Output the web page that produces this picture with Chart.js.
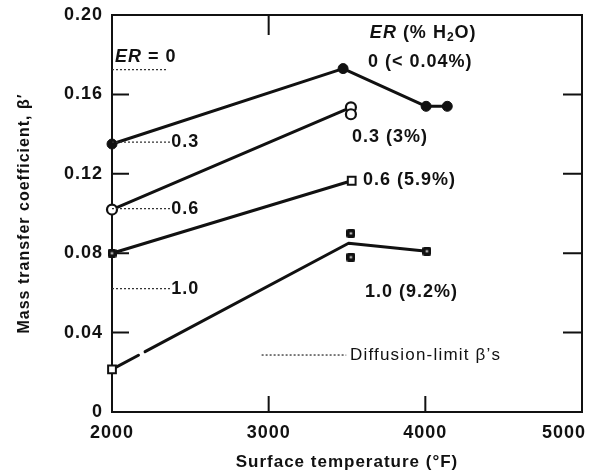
<!DOCTYPE html>
<html>
<head>
<meta charset="utf-8">
<title>Mass transfer coefficient vs surface temperature</title>
<script src="https://cdn.jsdelivr.net/npm/chart.js@4.4.1/dist/chart.umd.min.js"></script>
<style>
  html, body { margin: 0; padding: 0; background: #fff; }
  #wrap { width: 593px; height: 473px; }
</style>
</head>
<body>
<div id="wrap"><canvas id="chart"></canvas></div>
<script>
// beta' readings (surface temperature in °F) for each excess-reagent level
const er0Temp  = [2000, 3475, 4005, 4140];
const er0Beta  = [0.135, 0.173, 0.154, 0.154];
const er03Temp = [2000, 3525, 3525];
const er03Beta = [0.102, 0.1535, 0.150];
const er06Temp = [2000, 3530];
const er06Beta = [0.080, 0.1165];
const er10Temp = [2000, 3510, 4010];
const er10Beta = [0.0215, 0.085, 0.081];
// repeat runs at ER = 1.0, markers only
const er10RepTemp = [3525, 3525];
const er10RepBeta = [0.090, 0.078];

// diffusion-limit beta' per ER level
const erLevels  = ['0', '0.3', '0.6', '1.0'];
const waterPct  = ['< 0.04%', '3%', '5.9%', '9.2%'];
const diffBeta  = [0.1725, 0.136, 0.1025, 0.0622];

const xTicks = [2000, 3000, 4000, 5000];
const yTicks = [0, 0.04, 0.08, 0.12, 0.16, 0.20];

const FAM = '"Liberation Sans", Arial, Helvetica, sans-serif';
const INK = '#111';
const DIFF_END = 2370;   // dotted limit marks run from 2000 °F to here

// small filled square with a light centre, used for the ER = 1.0 runs
function dotSquare(size) {
  const c = document.createElement('canvas');
  c.width = size; c.height = size;
  const g = c.getContext('2d');
  g.fillStyle = INK;
  g.beginPath(); g.roundRect(0, 0, size, size, 2); g.fill();
  g.fillStyle = '#fff';
  g.fillRect(size / 2 - 1, size / 2 - 1, 2, 2);
  return c;
}
const darkSq = dotSquare(9);

const pts = (xs, ys) => xs.map((x, i) => ({ x, y: ys[i] }));
const solid = { showLine: true, borderColor: INK, borderWidth: 3, fill: false, tension: 0,
                borderCapStyle: 'round', borderJoinStyle: 'round', clip: false };

const diffSets = diffBeta.map((b, i) => ({
  data: [{ x: 2000, y: b }, { x: i === 0 ? 2355 : DIFF_END, y: b }],
  showLine: true, borderColor: '#333', borderWidth: 1.3, borderDash: [2, 2], pointRadius: 0
}));

// text placed in data units
const notes = [
  { x: 3646, y: 0.191,  parts: [['ER', 'bi'], [' (% H', 'b'], ['2', 'sub'], ['O)', 'b']] },
  { x: 3634, y: 0.1765, parts: [[erLevels[0] + ' (' + waterPct[0] + ')', 'b']] },
  { x: 3532, y: 0.1386, parts: [[erLevels[1] + ' (' + waterPct[1] + ')', 'b']] },
  { x: 3602, y: 0.117,  parts: [[erLevels[2] + ' (' + waterPct[2] + ')', 'b']] },
  { x: 3615, y: 0.0605, parts: [[erLevels[3] + ' (' + waterPct[3] + ')', 'b']] },
  { x: 2019, y: 0.179,  parts: [['ER', 'bi'], [' = ' + erLevels[0], 'b']] },
  { x: DIFF_END + 8, y: diffBeta[1], parts: [[erLevels[1], 'b']] },
  { x: DIFF_END + 8, y: diffBeta[2], parts: [[erLevels[2], 'b']] },
  { x: DIFF_END + 8, y: diffBeta[3], parts: [[erLevels[3], 'b']] },
  { x: 3519, y: 0.0287, parts: [['Diffusion-limit β\u2019s', 'r']], key: [2955, 3495] }
];

const fonts = {
  b:   'bold 18px ' + FAM,
  bi:  'italic bold 18px ' + FAM,
  r:   '17px ' + FAM,
  sub: 'bold 12px ' + FAM
};

function drawRich(ctx, x, y, parts) {
  ctx.textBaseline = 'middle';
  ctx.textAlign = 'left';
  parts.forEach(([txt, st]) => {
    ctx.font = fonts[st];
    ctx.fillText(txt, x, st === 'sub' ? y + 5 : y);
    x += ctx.measureText(txt).width;
  });
}

// inward tick marks per side
const leftTicks = [0.04, 0.08, 0.12, 0.16];
const rightTicks = [0.04, 0.08, 0.12, 0.16];
const bottomTicks = [3000, 4000];
const topTicks = [3000];

const framePlugin = {
  id: 'frame',
  beforeUpdate(chart) { chart.ctx.letterSpacing = '1px'; },
  beforeDraw(chart) { chart.ctx.letterSpacing = '1px'; },
  beforeDatasetsDraw(chart) {
    const { ctx, chartArea: a, scales: { x, y } } = chart;
    ctx.save();
    ctx.strokeStyle = INK;
    ctx.lineWidth = 2;
    ctx.strokeRect(a.left, a.top, a.right - a.left, a.bottom - a.top);
    ctx.beginPath();
    leftTicks.forEach(v => { const p = y.getPixelForValue(v); ctx.moveTo(a.left, p); ctx.lineTo(a.left + 17, p); });
    rightTicks.forEach(v => { const p = y.getPixelForValue(v); ctx.moveTo(a.right, p); ctx.lineTo(a.right - 19, p); });
    bottomTicks.forEach(v => { const p = x.getPixelForValue(v); ctx.moveTo(p, a.bottom); ctx.lineTo(p, a.bottom - 16); });
    topTicks.forEach(v => { const p = x.getPixelForValue(v); ctx.moveTo(p, a.top); ctx.lineTo(p, a.top + 20); });
    ctx.stroke();
    ctx.restore();
  },
  afterDraw(chart) {
    const { ctx, scales: { x, y } } = chart;
    ctx.save();
    ctx.fillStyle = INK;
    ctx.letterSpacing = '1px';
    // x tick labels, kept inside the canvas at the right edge
    ctx.font = fonts.b;
    ctx.textAlign = 'center';
    ctx.textBaseline = 'middle';
    xTicks.forEach(v => {
      const label = String(v);
      const w = ctx.measureText(label).width;
      const px = Math.min(x.getPixelForValue(v), chart.width - 7 - w / 2);
      ctx.fillText(label, px, 433);
    });
    notes.forEach(n => {
      const px = x.getPixelForValue(n.x), py = y.getPixelForValue(n.y);
      if (n.key) {
        ctx.save();
        ctx.strokeStyle = '#333'; ctx.lineWidth = 1.3; ctx.setLineDash([2, 2]);
        ctx.beginPath();
        ctx.moveTo(x.getPixelForValue(n.key[0]), py);
        ctx.lineTo(x.getPixelForValue(n.key[1]), py);
        ctx.stroke();
        ctx.restore();
        ctx.letterSpacing = '1.2px';
      }
      drawRich(ctx, px, py, n.parts);
      ctx.letterSpacing = '1px';
    });
    ctx.restore();
  }
};

new Chart(document.getElementById('chart'), {
  type: 'scatter',
  data: {
    datasets: [
      ...diffSets,
      { ...solid, data: pts(er0Temp, er0Beta), pointStyle: 'circle', pointRadius: 5,
        pointBackgroundColor: INK, pointBorderColor: INK, pointBorderWidth: 1 },
      { ...solid, data: pts(er03Temp, er03Beta), pointStyle: 'circle', pointRadius: 5,
        pointBackgroundColor: '#fff', pointBorderColor: INK, pointBorderWidth: 2.2 },
      { ...solid, data: pts(er06Temp, er06Beta), pointStyle: [darkSq, 'rect'], pointRadius: 5.5,
        pointBackgroundColor: '#fff', pointBorderColor: INK, pointBorderWidth: 2 },
      { ...solid, data: pts(er10Temp, er10Beta), borderDash: [30, 7.5, 1000],
        pointStyle: ['rect', 'rect', darkSq], pointRadius: [5.5, 0, 5.5],
        pointBackgroundColor: '#fff', pointBorderColor: INK, pointBorderWidth: 2 },
      { data: pts(er10RepTemp, er10RepBeta), showLine: false, pointStyle: darkSq, pointRadius: 5, clip: false }
    ]
  },
  options: {
    responsive: true,
    maintainAspectRatio: false,
    animation: false,
    layout: { padding: { left: 0, right: 11, top: 15, bottom: 0 } },
    plugins: { legend: { display: false }, tooltip: { enabled: false } },
    scales: {
      x: {
        type: 'linear', min: 2000, max: 5000,
        afterBuildTicks: s => { s.ticks = xTicks.map(v => ({ value: v })); },
        grid: { display: false, drawTicks: false },
        border: { display: false },
        ticks: { display: false },
        title: { display: true, text: 'Surface temperature (°F)', color: INK,
                 font: { family: FAM, size: 17, weight: 'bold' }, padding: { top: 0, bottom: 0 } },
        afterFit: s => { s.height = 61; s.paddingLeft = 0; s.paddingRight = 0; }
      },
      y: {
        type: 'linear', min: 0, max: 0.2,
        afterBuildTicks: s => { s.ticks = yTicks.map(v => ({ value: v })); },
        grid: { display: false, drawTicks: false },
        border: { display: false },
        ticks: { padding: 9, color: INK, font: { family: FAM, size: 18, weight: 'bold' },
                 callback: v => v === 0 ? '0' : v.toFixed(2) },
        title: { display: true, text: 'Mass transfer coefficient, β\u2032', color: INK,
                 font: { family: FAM, size: 16, weight: 'bold' }, padding: { top: 15, bottom: 0 } },
        afterFit: s => { s.width = 112; s.paddingTop = 0; s.paddingBottom = 0; }
      }
    }
  },
  plugins: [framePlugin]
});
</script>
</body>
</html>
